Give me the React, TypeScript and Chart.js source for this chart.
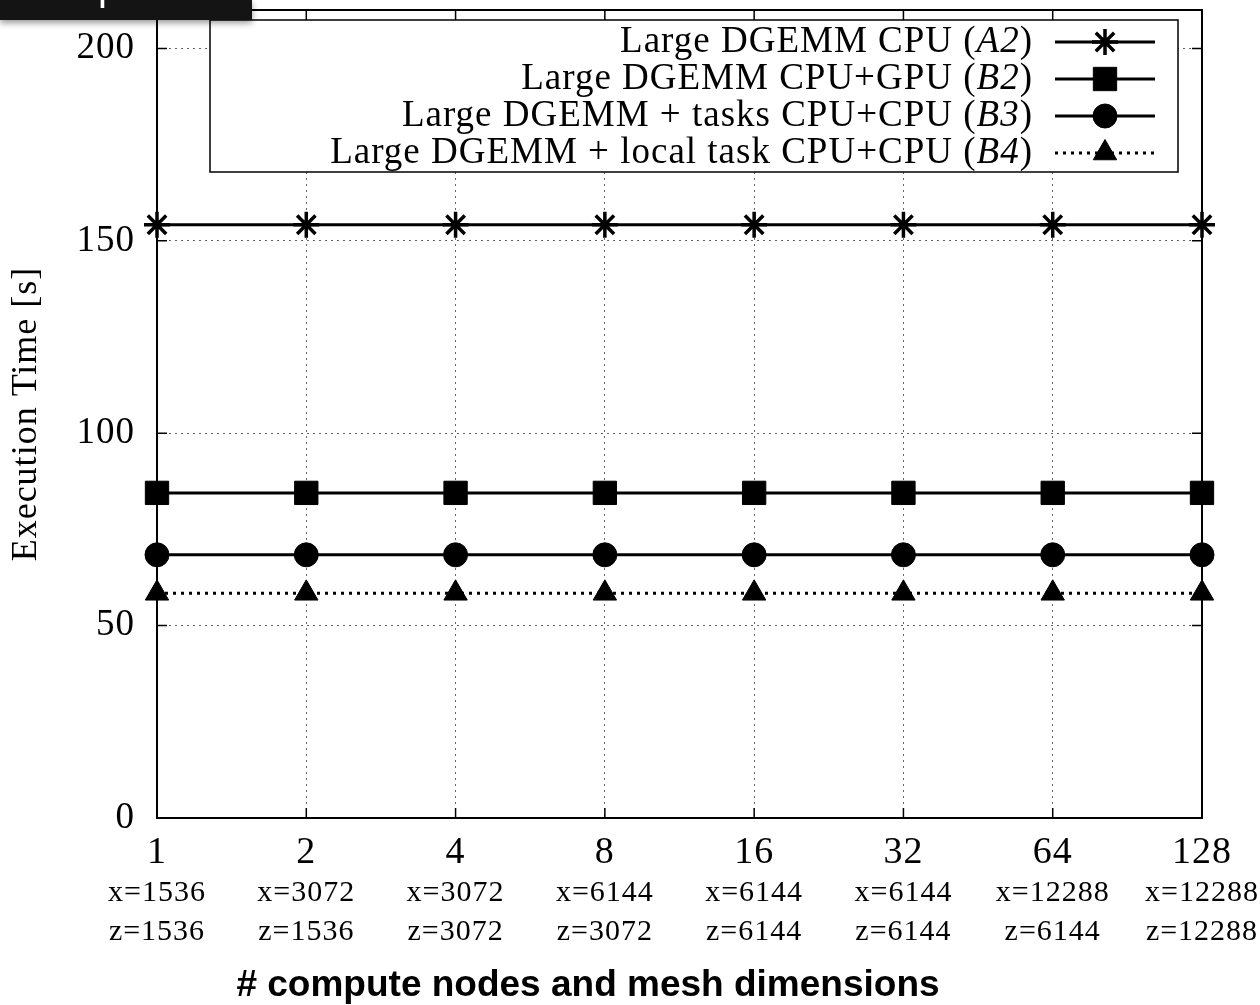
import React, { useEffect, useRef } from 'react';
import { Chart, registerables } from 'chart.js';
import { drawPoint } from 'chart.js/helpers';

Chart.register(...registerables);

const nodeCounts = ['1', '2', '4', '8', '16', '32', '64', '128'];
const meshX = ['x=1536', 'x=3072', 'x=3072', 'x=6144', 'x=6144', 'x=6144', 'x=12288', 'x=12288'];
const meshZ = ['z=1536', 'z=1536', 'z=3072', 'z=3072', 'z=6144', 'z=6144', 'z=6144', 'z=12288'];

const seriesNames = [
  'Large DGEMM CPU',
  'Large DGEMM CPU+GPU',
  'Large DGEMM + tasks CPU+CPU',
  'Large DGEMM + local task CPU+CPU',
];
const seriesCodes = ['A2', 'B2', 'B3', 'B4'];

const a2Values = [154.2, 154.2, 154.2, 154.2, 154.2, 154.2, 154.2, 154.2];
const b2Values = [84.5, 84.5, 84.5, 84.5, 84.5, 84.5, 84.5, 84.5];
const b3Values = [68.4, 68.4, 68.4, 68.4, 68.4, 68.4, 68.4, 68.4];
const b4Values = [58.4, 58.4, 58.4, 58.4, 58.4, 58.4, 58.4, 58.4];

const yTicks = [0, 50, 100, 150, 200];
const yMax = 210;

const SERIF = '"Liberation Serif", "Times New Roman", serif';

const spacingPlugin = {
  id: 'letterSpacing',
  beforeInit(chart: any) {
    chart.ctx.letterSpacing = '1px';
  },
  beforeUpdate(chart: any) {
    chart.ctx.letterSpacing = '1px';
  },
  beforeDraw(chart: any) {
    chart.ctx.letterSpacing = '1px';
  },
};

const framePlugin = {
  id: 'gnuFrame',
  afterDatasetsDraw(chart: any) {
    const { ctx, chartArea: a, scales } = chart;
    ctx.save();
    // frame
    ctx.strokeStyle = '#000';
    ctx.lineWidth = 2;
    ctx.setLineDash([]);
    ctx.strokeRect(a.left, a.top, a.right - a.left, a.bottom - a.top);
    // inward ticks
    ctx.lineWidth = 1.5;
    const len = 10;
    ctx.beginPath();
    scales.y.ticks.forEach((t: any) => {
      const y = scales.y.getPixelForValue(t.value);
      ctx.moveTo(a.left, y);
      ctx.lineTo(a.left + len, y);
      ctx.moveTo(a.right, y);
      ctx.lineTo(a.right - len, y);
    });
    scales.x.ticks.forEach((_t: any, i: number) => {
      const x = scales.x.getPixelForTick(i);
      ctx.moveTo(x, a.top);
      ctx.lineTo(x, a.top + len);
      ctx.moveTo(x, a.bottom);
      ctx.lineTo(x, a.bottom - len);
    });
    ctx.stroke();

    // legend box
    const bl = a.left + 53;
    const br = a.right - 24;
    const bt = a.top + 10;
    const bb = a.top + 162;
    ctx.fillStyle = '#fff';
    ctx.fillRect(bl, bt, br - bl, bb - bt);
    ctx.lineWidth = 1.5;
    ctx.strokeRect(bl, bt, br - bl, bb - bt);

    const textRight = a.right - 169;
    const sampleL = a.right - 147;
    const sampleR = a.right - 47;
    const markX = a.right - 97;
    ctx.letterSpacing = '1px';
    chart.data.datasets.forEach((ds: any, i: number) => {
      const y = a.top + 32 + i * 37;
      const regular = `37px ${SERIF}`;
      const italic = `italic 37px ${SERIF}`;
      ctx.textBaseline = 'middle';
      ctx.textAlign = 'left';
      ctx.fillStyle = '#000';
      ctx.font = regular;
      const p1 = seriesNames[i] + ' (';
      const w1 = ctx.measureText(p1).width;
      const w3 = ctx.measureText(')').width;
      ctx.font = italic;
      const w2 = ctx.measureText(seriesCodes[i]).width;
      let x = textRight - (w1 + w2 + w3);
      ctx.font = regular;
      ctx.fillText(p1, x, y);
      x += w1;
      ctx.font = italic;
      ctx.fillText(seriesCodes[i], x, y);
      x += w2;
      ctx.font = regular;
      ctx.fillText(')', x, y);

      // sample line
      ctx.strokeStyle = '#000';
      ctx.lineWidth = ds.borderWidth;
      ctx.setLineDash(ds.borderDash || []);
      ctx.beginPath();
      ctx.moveTo(sampleL, y);
      ctx.lineTo(sampleR, y);
      ctx.stroke();
      ctx.setLineDash([]);
      ctx.fillStyle = '#000';
      ctx.lineWidth = ds.pointBorderWidth;
      drawPoint(ctx, {
        pointStyle: ds.pointStyle,
        radius: ds.pointRadius,
        rotation: 0,
        borderWidth: ds.pointBorderWidth,
      } as any, markX, y);
    });
    ctx.restore();
  },
};

export default function App() {
  const canvasRef = useRef<HTMLCanvasElement | null>(null);

  useEffect(() => {
    const canvas = canvasRef.current;
    if (!canvas) return;
    const mk = (data: number[], style: string, radius: number, pbw: number, dash?: number[]) => ({
      data,
      borderColor: '#000',
      backgroundColor: '#000',
      borderWidth: 3,
      borderDash: dash || [],
      pointStyle: style,
      pointRadius: radius,
      pointBorderWidth: pbw,
      pointBackgroundColor: '#000',
      pointBorderColor: '#000',
      clip: false,
      tension: 0,
    });
    const zeroPad = () => ({ left: 0, top: 0, right: 0, bottom: 0 });
    const chart = new Chart(canvas, {
      type: 'line',
      data: {
        labels: nodeCounts,
        datasets: [
          { label: seriesNames[0], ...mk(a2Values, 'star', 13, 3.5) },
          { label: seriesNames[1], ...mk(b2Values, 'rect', 16.5, 1) },
          { label: seriesNames[2], ...mk(b3Values, 'circle', 12, 1) },
          { label: seriesNames[3], ...mk(b4Values, 'triangle', 13.5, 1, [3, 5]) },
        ] as any,
      },
      options: {
        animation: false,
        responsive: false,
        devicePixelRatio: 1,
        layout: { autoPadding: false, padding: { left: 0, top: 10, right: 58, bottom: 31 } },
        plugins: {
          legend: { display: false },
          tooltip: { enabled: false },
        },
        scales: {
          x: {
            type: 'category',
            offset: false,
            grid: { color: '#666', lineWidth: 1, drawTicks: false },
            border: { display: false, dash: [2, 4] },
            ticks: {
              color: '#000',
              font: { family: SERIF, size: 38 },
              padding: 12,
              maxRotation: 0,
              autoSkip: false,
            },
            afterFit: (s: any) => {
              s.height = 56;
              s.paddingLeft = 0;
              s.paddingRight = 0;
              s.getPadding = zeroPad;
            },
          },
          x2: {
            type: 'category',
            position: 'bottom',
            offset: false,
            grid: { display: false, drawTicks: false },
            border: { display: false },
            ticks: {
              color: '#000',
              font: { family: SERIF, size: 30, lineHeight: 1.3 },
              padding: 0,
              maxRotation: 0,
              autoSkip: false,
              callback: (_v: any, i: number) => [meshX[i], meshZ[i]],
            },
            afterFit: (s: any) => {
              s.height = 100;
              s.paddingLeft = 0;
              s.paddingRight = 0;
              s.getPadding = zeroPad;
            },
          },
          y: {
            min: 0,
            max: yMax,
            afterBuildTicks: (s: any) => {
              s.ticks = yTicks.map((v) => ({ value: v }));
            },
            grid: {
              color: (c: any) => (c.tick && c.tick.value === 0 ? 'rgba(0,0,0,0)' : '#666'),
              lineWidth: 1,
              drawTicks: false,
            },
            border: { display: false, dash: [2, 4] },
            ticks: {
              color: '#000',
              font: { family: SERIF, size: 37 },
              padding: 22,
            },
            title: {
              display: true,
              text: 'Execution Time [s]',
              color: '#000',
              font: { family: SERIF, size: 36 },
              padding: { top: 5, bottom: 0 },
            },
            afterFit: (s: any) => {
              s.width = 157;
              s.paddingTop = 0;
              s.paddingBottom = 0;
              s.getPadding = zeroPad;
            },
          },
        },
      } as any,
      plugins: [spacingPlugin, framePlugin],
    });
    return () => chart.destroy();
  }, []);

  return (
    <div style={{ position: 'absolute', left: 0, top: 0, width: 1260, height: 1005, background: '#fff', overflow: 'hidden' }}>
      <canvas ref={canvasRef} width={1260} height={1005} style={{ width: 1260, height: 1005, display: 'block' }} />
      <div
        style={{
          position: 'absolute',
          left: 0,
          top: 0,
          width: 252,
          height: 20,
          background: '#141414',
          overflow: 'hidden',
          boxShadow: '0 3px 6px rgba(0,0,0,0.4)',
        }}
      >
        <span
          style={{
            position: 'absolute',
            left: -40,
            top: -37,
            color: '#fff',
            fontFamily: '"Liberation Sans", Arial, sans-serif',
            fontSize: 40,
            lineHeight: '46px',
            whiteSpace: 'nowrap',
          }}
        >
          Speedup
        </span>
      </div>
      <div
        style={{
          position: 'absolute',
          left: 0,
          top: 963,
          width: 1176,
          textAlign: 'center',
          fontFamily: '"Liberation Sans", Arial, sans-serif',
          fontWeight: 'bold',
          fontSize: 37,
          lineHeight: '42px',
          color: '#000',
          whiteSpace: 'nowrap',
        }}
      >
        # compute nodes and mesh dimensions
      </div>
    </div>
  );
}
